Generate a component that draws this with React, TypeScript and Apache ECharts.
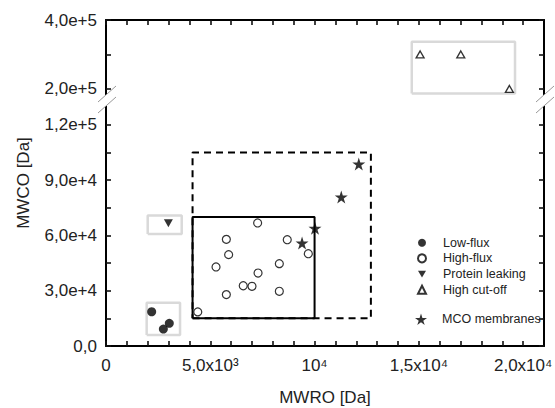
import React, { useEffect, useRef } from "react";
import * as echarts from "echarts";

// ---- data ----
const lowFlux: [number, number][] = [
  [2190, 18600],
  [2750, 9200],
  [3035, 12300],
];
const highFlux: [number, number][] = [
  [7270, 66800],
  [5770, 57900],
  [8690, 57700],
  [5880, 49600],
  [9700, 50100],
  [5275, 42900],
  [8310, 44700],
  [7290, 39600],
  [6580, 32700],
  [7000, 32400],
  [5770, 27900],
  [8310, 29700],
  [4400, 18500],
];
const proteinLeaking: [number, number][] = [[2990, 66600]];
const highCutOff: [number, number][] = [
  [15060, 300000],
  [17010, 300000],
  [19340, 200000],
];
const mcoMembranes: [number, number][] = [
  [12120, 98800],
  [11280, 80900],
  [10020, 63900],
  [9400, 55900],
];

// boxes: [x0, y0, x1, y1]
const solidBox = [4150, 15000, 10000, 70000];
const dashedBox = [4150, 15000, 12700, 105000];
const lowFluxBox = [1950, 6000, 3550, 23500];
const proteinBox = [2000, 60800, 3630, 70800];
const hcoBox = [14660, 187000, 19610, 337000];

// ---- axes ----
const xMin = 0;
const xMax = 21000;
const xTickValues = [0, 1000, 2000, 3000, 4000, 5000, 6000, 7000, 8000, 9000, 10000, 11000, 12000, 13000, 14000, 15000, 16000, 17000, 18000, 19000, 20000];
const xLabelValues = [0, 5000, 10000, 15000, 20000];
const xLabelTexts = ["0", "5,0x10³", "10⁴", "1,5x10⁴", "2,0x10⁴"];

const yLowMin = 0;
const yLowMax = 133000;
const yLowTickValues = [0, 15000, 30000, 45000, 60000, 75000, 90000, 105000, 120000];
const yLowLabelValues = [0, 30000, 60000, 90000, 120000];
const yLowLabelTexts = ["0,0", "3,0e+4", "6,0e+4", "9,0e+4", "1,2e+5"];

const yHighMin = 165000;
const yHighMax = 400000;
const yHighTickValues = [200000, 300000, 400000];
const yHighLabelValues = [200000, 400000];
const yHighLabelTexts = ["2,0e+5", "4,0e+5"];

const FONT = "'Liberation Sans', Arial, sans-serif";
const STAR =
  "path://M10,0L12.25,6.91L19.51,6.91L13.63,11.18L15.88,18.09L10,13.82L4.12,18.09L6.37,11.18L0.49,6.91L7.75,6.91Z";
const TRI_DOWN = "path://M0,0L10,0L5,8.66Z";

function boxPath(b: number[]): [number, number][] {
  return [
    [b[0], b[1]],
    [b[2], b[1]],
    [b[2], b[3]],
    [b[0], b[3]],
    [b[0], b[1]],
  ];
}

function labelFmt(values: number[], texts: string[]) {
  return (v: number) => {
    const i = values.indexOf(v);
    return i >= 0 ? texts[i] : "";
  };
}

export default function App() {
  const ref = useRef<HTMLDivElement>(null);
  useEffect(() => {
    if (!ref.current) return;
    const chart = echarts.init(ref.current, undefined, { renderer: "svg" });
    const axisLine = () => ({ show: true, onZero: false, lineStyle: { color: "#000", width: 2 } });
    const tick = (vals: number[]) => ({
      show: true,
      inside: true,
      length: 5,
      customValues: vals,
      lineStyle: { color: "#111", width: 1.6 },
    });
    const labelStyle = () => ({ fontFamily: FONT, fontSize: 17, color: "#222" });

    const boxSeries = (name: string, b: number[], color: string, width: number, type: any, yi: number) => ({
      name,
      type: "line",
      xAxisIndex: yi === 0 || yi === 1 ? 0 : 1,
      yAxisIndex: yi,
      data: boxPath(b),
      symbol: "none",
      silent: true,
      lineStyle: { color, width, type },
      z: 1,
    });

    chart.setOption({
      animation: false,
      backgroundColor: "#fff",
      grid: [
        { left: 106, right: 11, top: 101, bottom: 62, outerBoundsMode: "none" },
        { left: 106, right: 11, top: 20, height: 81, outerBoundsMode: "none" },
      ],
      xAxis: [
        {
          type: "value",
          gridIndex: 0,
          min: xMin,
          max: xMax,
          position: "bottom",
          axisLine: axisLine(),
          axisTick: tick(xTickValues),
          axisLabel: { ...labelStyle(), margin: 11, customValues: xLabelValues, formatter: labelFmt(xLabelValues, xLabelTexts) },
          splitLine: { show: false },
          name: "MWRO [Da]",
          nameLocation: "middle",
          nameGap: 43,
          nameTextStyle: labelStyle(),
        },
        {
          type: "value",
          gridIndex: 1,
          min: xMin,
          max: xMax,
          position: "top",
          axisLine: axisLine(),
          axisTick: tick(xTickValues),
          axisLabel: { show: false },
          splitLine: { show: false },
        },
      ],
      yAxis: [
        {
          type: "value",
          gridIndex: 0,
          min: yLowMin,
          max: yLowMax,
          position: "left",
          axisLine: axisLine(),
          axisTick: tick(yLowTickValues),
          axisLabel: { ...labelStyle(), margin: 9, customValues: yLowLabelValues, formatter: labelFmt(yLowLabelValues, yLowLabelTexts) },
          splitLine: { show: false },
        },
        {
          type: "value",
          gridIndex: 0,
          min: yLowMin,
          max: yLowMax,
          position: "right",
          axisLine: axisLine(),
          axisTick: tick(yLowTickValues),
          axisLabel: { show: false },
          splitLine: { show: false },
        },
        {
          type: "value",
          gridIndex: 1,
          min: yHighMin,
          max: yHighMax,
          position: "left",
          axisLine: axisLine(),
          axisTick: tick(yHighTickValues),
          axisLabel: { ...labelStyle(), margin: 9, customValues: yHighLabelValues, formatter: labelFmt(yHighLabelValues, yHighLabelTexts) },
          splitLine: { show: false },
        },
        {
          type: "value",
          gridIndex: 1,
          min: yHighMin,
          max: yHighMax,
          position: "right",
          axisLine: axisLine(),
          axisTick: tick(yHighTickValues),
          axisLabel: { show: false },
          splitLine: { show: false },
        },
      ],
      legend: [
        {
          data: ["Low-flux", "High-flux", "Protein leaking", "High cut-off"],
          orient: "vertical",
          left: 417,
          top: 235.7,
          itemWidth: 8,
          itemHeight: 8,
          itemGap: 1.7,
          padding: 0,
          selectedMode: false,
          textStyle: { fontFamily: FONT, fontSize: 12.5, color: "#222", lineHeight: 14, padding: [0, 0, 0, 12] },
        },
        {
          data: ["MCO membranes"],
          orient: "vertical",
          left: 415,
          top: 312.3,
          itemWidth: 12,
          itemHeight: 12,
          padding: 0,
          selectedMode: false,
          textStyle: { fontFamily: FONT, fontSize: 12.5, color: "#222", lineHeight: 14, padding: [0, 0, 0, 10] },
        },
      ],
      series: [
        boxSeries("lfbox", lowFluxBox, "#d9d9d9", 2.5, "solid", 0),
        boxSeries("plbox", proteinBox, "#d9d9d9", 2.5, "solid", 0),
        boxSeries("hcobox", hcoBox, "#d9d9d9", 2.5, "solid", 2),
        boxSeries("solid", solidBox, "#000", 2, "solid", 0),
        boxSeries("dashed", dashedBox, "#000", 2, [7, 5], 0),
        {
          name: "Low-flux",
          type: "scatter",
          xAxisIndex: 0,
          yAxisIndex: 0,
          data: lowFlux,
          symbol: "circle",
          symbolSize: 9,
          itemStyle: { color: "#000" },
          z: 3,
        },
        {
          name: "High-flux",
          type: "scatter",
          xAxisIndex: 0,
          yAxisIndex: 0,
          data: highFlux,
          symbol: "circle",
          symbolSize: 8,
          itemStyle: { color: "#fff", borderColor: "#000", borderWidth: 1.2 },
          z: 3,
        },
        {
          name: "Protein leaking",
          type: "scatter",
          xAxisIndex: 0,
          yAxisIndex: 0,
          data: proteinLeaking,
          symbol: TRI_DOWN,
          symbolSize: [9, 8],
          itemStyle: { color: "#000" },
          z: 3,
        },
        {
          name: "High cut-off",
          type: "scatter",
          xAxisIndex: 1,
          yAxisIndex: 2,
          data: highCutOff,
          symbol: "triangle",
          symbolSize: [8, 7],
          itemStyle: { color: "#fff", borderColor: "#000", borderWidth: 1.3 },
          z: 3,
        },
        {
          name: "MCO membranes",
          type: "scatter",
          xAxisIndex: 0,
          yAxisIndex: 0,
          data: mcoMembranes,
          symbol: STAR,
          symbolSize: 13,
          itemStyle: { color: "#000" },
          z: 4,
        },
      ],
      graphic: [
        { type: "rect", z: 100, shape: { x: 103, y: 95, width: 6, height: 11 }, style: { fill: "#fff" } },
        { type: "rect", z: 100, shape: { x: 541, y: 95, width: 6, height: 11 }, style: { fill: "#fff" } },
        { type: "line", z: 101, shape: { x1: 116, y1: 86, x2: 98, y2: 102 }, style: { stroke: "#999", lineWidth: 1 } },
        { type: "line", z: 101, shape: { x1: 116, y1: 97, x2: 98, y2: 113 }, style: { stroke: "#999", lineWidth: 1 } },
        { type: "line", z: 101, shape: { x1: 554, y1: 86, x2: 536, y2: 102 }, style: { stroke: "#999", lineWidth: 1 } },
        { type: "line", z: 101, shape: { x1: 554, y1: 97, x2: 536, y2: 113 }, style: { stroke: "#999", lineWidth: 1 } },
        {
          type: "text",
          z: 101,
          x: 23,
          y: 183,
          rotation: Math.PI / 2,
          style: {
            text: "MWCO [Da]",
            fontFamily: FONT,
            fontSize: 17,
            fill: "#222",
            textAlign: "center",
            textVerticalAlign: "middle",
          },
        },
      ],
    });
    return () => chart.dispose();
  }, []);
  return <div ref={ref} style={{ position: "fixed", left: 0, top: 0, width: 555, height: 408 }} />;
}
